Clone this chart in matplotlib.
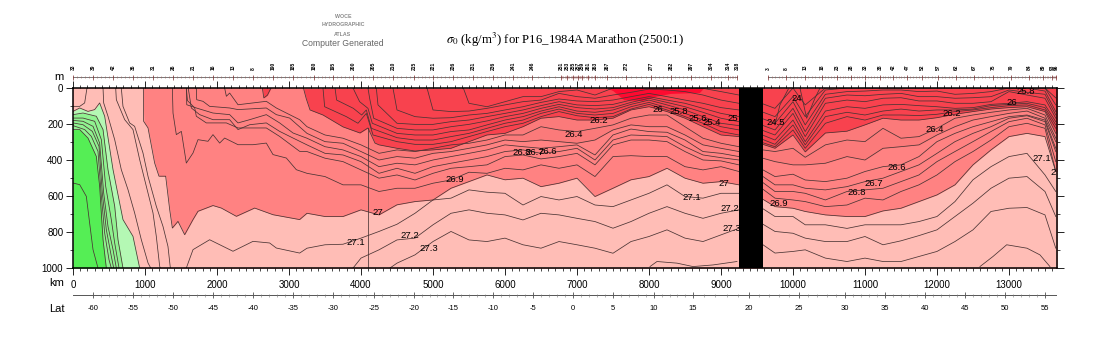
import numpy as np
import matplotlib
matplotlib.use("Agg")
import matplotlib.pyplot as plt

plt.rcParams["font.family"] = ["Liberation Sans", "DejaVu Sans"]
plt.rcParams["mathtext.fontset"] = "stix"

# shared distance nodes, km: west of the gap and east of it
GRID_MID = np.arange(0, 9251, 250)
GRID_RIGHT = [9750, 10000, 10170, 10450, 10750, 11000, 11250, 11500, 11750, 12000,
              12250, 12500, 12750, 13000, 13250, 13500, 13650]

# isopycnal depths (m): *_HK/*_HM = outcrop part, *_M = mid nodes (ending 9250 km), *_R = right nodes
S270_HK = [977, 981, 1042, 1134, 1194, 1287, 1343, 1380, 1458, 1551, 1667, 1736, 1944, 2060, 2269, 2523, 2778, 3148]
S270_HM = [0, 185, 222, 417, 490, 490, 676, 778, 741, 815, 731, 685, 653, 667, 713, 667, 704, 731]
S270_M = [696, 714, 714, 677, 705, 649, 631, 622, 557, 520, 483, 510, 501, 548, 529, 501, 603, 557, 510, 492, 446, 501, 529, 520, 538]
S270_R = [659, 668, 686, 705, 714, 714, 683, 668, 631, 594, 538, 427, 344, 270, 252, 270, 464]

S271_HK = [1574, 1667, 1898, 2222, 2500, 2731, 2824, 3148]
S271_HM = [1000, 898, 843, 907, 852, 861, 889, 917]
S271_M = [890, 871, 868, 834, 797, 757, 696, 622, 612, 566, 579, 585, 650, 603, 622, 603, 650, 659, 622, 585, 538, 603, 612, 585, 585]
S271_R = [714, 714, 760, 760, 780, 760, 760, 760, 742, 714, 631, 510, 437, 381, 363, 483, 575]

S272_HK = [3890]
S272_HM = [1000]
S272_M = [945, 899, 844, 834, 760, 696, 677, 696, 705, 733, 696, 705, 724, 742, 779, 742, 696, 659, 696, 724, 696, 677]
S272_R = [797, 807, 834, 853, 853, 825, 871, 849, 820, 788, 714, 640, 557, 501, 492, 575, 714]

S273_HK = [4403]
S273_HM = [1000]
S273_M = [973, 927, 853, 797, 844, 853, 834, 871, 890, 853, 871, 890, 918, 853, 825, 788, 834, 853, 816, 779]
S273_R = [917, 908, 899, 945, 964, 945, 964, 964, 936, 908, 853, 788, 686, 668, 664, 705, 890]

S269_HK = [1380, 1389, 1435, 1505, 1574, 1667, 1736, 1875, 1944, 2037, 2106, 2292, 2500, 2685, 2778, 2963, 3102]
S269_HM = [0, 139, 259, 241, 417, 361, 287, 296, 259, 306, 278, 315, 315, 306, 370, 389, 454]
S269_M = [474, 492, 538, 538, 575, 557, 557, 529, 511, 468, 474, 446, 455, 427, 446, 427, 492, 381, 376, 381, 381, 437, 455, 437, 464]
S269_R = [612, 622, 631, 659, 650, 612, 622, 575, 538, 483, 409, 353, 289, 215, 196, 224, 464]

S268_HK = [1574, 1590, 1690, 1713, 1852, 2130, 2292, 2685, 2870, 3148]
S268_HM = [0, 70, 110, 157, 194, 194, 222, 222, 269, 352]
S268_M = [353, 390, 409, 455, 501, 483, 511, 474, 446, 437, 427, 381, 372, 394, 381, 363, 427, 316, 289, 289, 298, 353, 400, 405, 427]
S268_R = [575, 575, 585, 622, 575, 566, 557, 520, 483, 409, 353, 298, 242, 187, 168, 205, 409]

S267_HK = [1600, 1644, 1759, 1944, 2176, 2292, 2454, 2685, 2870, 3056]
S267_HM = [0, 111, 148, 176, 176, 231, 204, 194, 241, 278]
S267_M = [316, 363, 372, 409, 474, 446, 474, 437, 418, 400, 381, 353, 344, 363, 353, 335, 400, 289, 261, 265, 270, 326, 372, 387, 400]
S267_R = [538, 538, 557, 566, 548, 520, 501, 464, 427, 363, 298, 252, 215, 168, 154, 187, 353]

S266_HK = [1574, 1580, 1713, 1944, 2176, 2292, 2454, 2685, 2870, 3056]
S266_HM = [0, 93, 111, 139, 148, 194, 176, 148, 194, 250]
S266_M = [279, 326, 344, 381, 437, 418, 427, 400, 381, 363, 344, 316, 326, 335, 326, 316, 372, 261, 228, 242, 246, 289, 353, 363, 381]
S266_R = [492, 479, 511, 520, 501, 464, 437, 427, 381, 298, 252, 215, 187, 159, 150, 178, 335]

S265_HK = [1713, 1718, 1805, 1898, 2176, 2292, 2685, 2824, 3009]
S265_HM = [0, 65, 74, 102, 111, 120, 111, 148, 167]
S265_M = [252, 298, 307, 353, 400, 381, 390, 363, 353, 335, 316, 289, 298, 289, 298, 307, 289, 233, 205, 215, 215, 261, 316, 335, 353]
S265_R = [409, 427, 427, 418, 381, 400, 335, 326, 316, 261, 215, 178, 159, 141, 128, 168, 298]

S264_HK = [2106, 2130, 2176, 2292, 2685, 2824, 3148]
S264_HM = [0, 46, 28, 93, 74, 111, 176]
S264_M = [215, 261, 279, 316, 363, 344, 353, 335, 316, 307, 289, 261, 261, 215, 233, 242, 224, 205, 168, 150, 150, 215, 279, 307, 326]
S264_R = [353, 335, 385, 316, 289, 298, 224, 279, 270, 224, 168, 150, 135, 122, 113, 150, 279]

S263_HK = [3200, 3240, 3292, 3472, 3750, 3986, 4097, 4194]
S263_HM = [0, 60, 122, 150, 216, 250, 222, 306]
S263_M = [316, 335, 350, 344, 335, 298, 261, 252, 215, 168, 159, 178, 178, 168, 122, 104, 131, 168, 215, 261, 270]
S263_R = [335, 261, 355, 250, 240, 205, 168, 178, 178, 165, 146, 131, 117, 109, 104, 131, 252]

S262_HK = [3472, 3495, 3796, 3958, 4074, 4167]
S262_HM = [0, 104, 159, 196, 141, 261]
S262_M = [298, 313, 313, 298, 270, 242, 215, 196, 159, 131, 154, 165, 159, 117, 91, 122, 159, 196, 242, 261]
S262_R = [326, 233, 335, 196, 159, 178, 150, 150, 153, 146, 131, 122, 109, 98, 94, 122, 224]

S261_HK = [3639, 3662, 3894, 4009, 4074, 4144]
S261_HM = [0, 67, 113, 150, 122, 224]
S261_M = [276, 289, 289, 270, 252, 224, 196, 178, 141, 117, 141, 150, 141, 104, 80, 109, 141, 178, 215, 233]
S261_R = [313, 205, 316, 159, 135, 150, 128, 117, 128, 122, 122, 117, 98, 91, 85, 109, 205]

S260_HK = [3889, 3981, 4097, 4157]
S260_HM = [0, 76, 113, 196]
S260_M = [252, 261, 261, 242, 233, 205, 178, 159, 128, 104, 128, 135, 122, 91, 67, 94, 122, 159, 196, 209]
S260_R = [289, 178, 298, 128, 104, 113, 94, 91, 98, 104, 113, 109, 91, 85, 76, 94, 187]

S258_HK = [4097, 4120, 4176]
S258_HM = [0, 57, 168]
S258_M = [224, 233, 233, 215, 202, 183, 159, 141, 113, 91, 109, 117, 109, 80, 57, 80, 104, 135, 168, 187]
S258_R = [261, 141, 270, 85, 67, 76, 57, 54, 72, 72, 85, 85, 76, 20, 39, 57, 168]

S256_HK = [4213, 4236]
S256_HM = [0, 94]
S256_M = [196, 202, 202, 187, 178, 159, 141, 122, 98, 76, 94, 98, 91, 67, 48, 67, 85, 113, 141, 159]
S256_R = [233, 113, 242, 57, 39, 43, 35, 30, 48, 48, 57, 54, 48, 11, 24, 35, 150]

S254_HK = [4444]
S254_HM = [0]
S254_M = [122, 159, 168, 165, 150, 141, 122, 104, 80, 61, 72, 76, 67, 48, 30, 48, 67, 85, 109, 122]
S254_R = [196, 76, 205, 35, 20, 17, 11, 11, 20, 17, 35, 30, 20, 0, 0, 17, 131]

S250_HK = [4917]
S250_HM = [0]
S250_M = [122, 131, 128, 113, 94, 76, 67, 30, 48, 57, 39, 24, 6, 11, 20, 39, 67, 85]
S250_R = [159, 48, 159, 11, 0, 0, 0, 0, 0, 0, 0, 0, 0, 0, 0, 0, 94]

S245_HK = [5421]
S245_HM = [0]
S245_M = [85, 104, 76, 48, 48, 20, 11, 39, 0, 0, 0, 0, 0, 2, 20, 39]
S245_R = [113, 0, 94, 0, 0, 0, 0, 0, 0, 0, 0, 0, 0, 0, 0, 0, 55]

# short contours with their own distances
G1_KM = [0, 93, 208, 301, 370, 440, 556, 694, 833, 926]
G1_M = [130, 111, 130, 120, 83, 157, 454, 731, 824, 1000]
G2_KM = [0, 139, 324, 417, 486, 579, 625, 694]
G2_M = [148, 139, 157, 231, 454, 657, 843, 1000]
G3_KM = [0, 139, 301, 394, 454, 532, 579, 639]
G3_M = [167, 167, 185, 287, 546, 731, 861, 1000]
G4_KM = [0, 139, 278, 370, 426, 486, 556, 602]
G4_M = [180, 185, 213, 306, 583, 769, 898, 1000]
G5_KM = [0, 139, 269, 361, 407, 463, 532, 565]
G5_M = [194, 204, 241, 324, 583, 787, 935, 1000]
G6_KM = [0, 162, 255, 347, 394, 440, 500, 532]
G6_M = [209, 231, 269, 352, 602, 806, 954, 1000]
G7_KM = [0, 93, 208, 324, 370, 417, 463]
G7_M = [231, 231, 278, 380, 546, 843, 1000]
G8_KM = [0, 93, 185, 231, 278, 347]
G8_M = [528, 537, 602, 750, 898, 1000]
PA_KM = [0, 93, 162, 194]
PA_M = [102, 102, 83, 0]
P1_KM = [417, 426, 486, 579, 671, 764, 856, 949, 1042, 1079]
P1_M = [0, 83, 157, 287, 454, 565, 694, 843, 972, 1000]
P2_KM = [593, 602, 718, 833, 926, 995, 1111, 1157, 1204, 1213]
P2_M = [0, 65, 176, 231, 398, 509, 694, 824, 991, 1000]
P3_KM = [671, 694, 787, 856, 972, 1042, 1157, 1250, 1319, 1352]
P3_M = [0, 102, 194, 213, 361, 491, 657, 769, 880, 1000]
S274A_KM = [8014, 8111, 8389, 8611, 8889, 9222]
S274A_M = [992, 964, 973, 992, 983, 964]
S274B_KM = [12597, 12778, 12968, 13250, 13430, 13569]
S274B_M = [992, 936, 871, 890, 927, 992]
S240A_KM = [9750, 9819, 9935]
S240A_M = [205, 94, 6]
S240B_KM = [10097, 10190, 10305, 10375]
S240B_M = [0, 168, 57, 0]
BLOB_KM = [7420, 7500, 7650, 7900, 8100, 8300, 8700, 8760]
BLOB_M = [0, 15, 65, 70, 45, 30, 25, 0]
SPOT_KM = [2630, 2650, 2700, 2750]
SPOT_M = [0, 55, 40, 0]
JOIN_KM = [4100, 4100]
JOIN_M = [224, 1000]

# contour labels
LABEL_KM = [10056, 9764, 9167, 8875, 8681, 8417, 8125, 7306, 6958, 6236, 6417, 6597, 5306, 4236, 3931, 4681, 4944,
            9042, 8597, 9125, 9153, 13236, 13042, 12208, 11972, 11444, 11125, 10889, 9806, 13458, 13611]
LABEL_M = [56, 189, 167, 189, 167, 133, 122, 178, 256, 356, 356, 350, 506, 689, 856, 817, 894,
           528, 611, 672, 783, 22, 83, 144, 233, 439, 533, 578, 644, 389, 467]
LABEL_TXT = ["24", "24.5", "25", "25.4", "25.6", "25.8", "26", "26.2", "26.4", "26.8", "26.7", "26.6", "26.9",
             "27", "27.1", "27.2", "27.3", "27", "27.1", "27.2", "27.3", "25.8", "26", "26.2", "26.4", "26.6",
             "26.7", "26.8", "26.9", "27.1", "2"]

# station strip: labelled stations, km along the section
STN_KM = [0, 278, 556, 833, 1111, 1389, 1667, 1944, 2222, 2500, 2778, 3056, 3347, 3611, 3889, 4167, 4444,
          4736, 5000, 5278, 5556, 5833, 6111, 6375, 6778, 6861, 6944, 7014, 7069, 7153, 7250, 7417, 7681,
          8028, 8306, 8583, 8861, 9097, 9222]
STN_TXT = ["33", "39", "42", "36", "31", "26", "21", "16", "13", "8", "190", "185", "180", "195", "200", "205",
           "210", "215", "221", "226", "231", "236", "241", "246", "251", "253", "255", "257", "259", "261",
           "263", "267", "272", "277", "282", "297", "304", "314", "318"]
STN2_KM = [9653, 9903, 10167, 10403, 10611, 10806, 11000, 11208, 11389, 11583, 11792, 12014, 12264, 12514,
           12778, 13028, 13278, 13472, 13597, 13660]
STN2_TXT = ["3", "8", "13", "18", "23", "28", "33", "38", "42", "47", "52", "57", "62", "67", "75", "79", "84",
            "89", "93", "96"]

# latitude strip
LAT_VAL = [-60, -55, -50, -45, -40, -35, -30, -25, -20, -15, -10, -5, 0, 5, 10, 15, 20, 25, 30, 35, 40, 45, 50, 55]
LAT_KM = [278, 833, 1389, 1944, 2500, 3056, 3611, 4180, 4736, 5278, 5833, 6389, 6944, 7500, 8069, 8611, 9389,
          10083, 10722, 11278, 11833, 12389, 12944, 13500]

KM_MAX = 13667
GAP_KM = [9250, 9585]
RED_TOP, RED_DARK, RED_MID = "#FF0A30", "#F8424E", "#FB7A7A"
SALMON, PINK = "#FF8282", "#FFBDB6"
GREEN_LT, GREEN_MD, GREEN_BR = "#B4F8B4", "#90F290", "#55EE55"
LINE = "#4a3434"


def track(head_km, head_m, mid, right):
    km = list(head_km) + list(GRID_MID[-len(mid):]) + GRID_RIGHT
    return np.array(km, float), np.array(list(head_m) + mid + right, float)


def main():
    fig = plt.figure(figsize=(11, 3.5), dpi=100)
    px = lambda x, y, w, h: [x / 1100, 1 - (y + h) / 350, w / 1100, h / 350]
    ax = fig.add_axes(px(73, 88, 984, 180))

    S270 = track(S270_HK, S270_HM, S270_M, S270_R)
    S265 = track(S265_HK, S265_HM, S265_M, S265_R)
    S263 = track(S263_HK, S263_HM, S263_M, S263_R)
    tracks = [S270, S265, S263,
              track(S271_HK, S271_HM, S271_M, S271_R), track(S272_HK, S272_HM, S272_M, S272_R),
              track(S273_HK, S273_HM, S273_M, S273_R), track(S269_HK, S269_HM, S269_M, S269_R),
              track(S268_HK, S268_HM, S268_M, S268_R), track(S267_HK, S267_HM, S267_M, S267_R),
              track(S266_HK, S266_HM, S266_M, S266_R), track(S264_HK, S264_HM, S264_M, S264_R),
              track(S262_HK, S262_HM, S262_M, S262_R), track(S261_HK, S261_HM, S261_M, S261_R),
              track(S260_HK, S260_HM, S260_M, S260_R), track(S258_HK, S258_HM, S258_M, S258_R),
              track(S256_HK, S256_HM, S256_M, S256_R), track(S254_HK, S254_HM, S254_M, S254_R),
              track(S250_HK, S250_HM, S250_M, S250_R), track(S245_HK, S245_HM, S245_M, S245_R)]

    # ---- layered fills --------------------------------------------------
    x = np.arange(0, KM_MAX + 5, 5.0)
    d263 = np.interp(x, *S263)
    d265 = np.interp(x, *S265)
    d270 = np.interp(x, *S270)
    ax.fill_between(x, 0, 1000, color=RED_DARK, lw=0)
    ax.fill_between(x, 0, 1000, where=x < 3200, color=SALMON, lw=0)
    ax.fill_between(x, d263, 1000, color=SALMON, lw=0)
    ax.fill_between(x, d263, d265, where=x > 4100, color=RED_MID, lw=0)
    ax.fill_between(x, d270, 1000, color=PINK, lw=0)
    ax.fill_between(G1_KM, G1_M, 1000, color=GREEN_LT, lw=0)
    ax.fill_between(G2_KM, G2_M, 1000, color=GREEN_MD, lw=0)
    ax.fill_between(G7_KM, G7_M, 1000, color=GREEN_BR, lw=0)
    ax.fill_between(BLOB_KM, 0, BLOB_M, color=RED_TOP, lw=0)
    ax.fill_between(SPOT_KM, 0, SPOT_M, color=RED_DARK, lw=0)

    # ---- contour lines --------------------------------------------------
    for km, m in tracks:
        ax.plot(km, m, color=LINE, lw=0.55)
    for km, m in [(G1_KM, G1_M), (G2_KM, G2_M), (G3_KM, G3_M), (G4_KM, G4_M), (G5_KM, G5_M), (G6_KM, G6_M),
                  (G7_KM, G7_M), (G8_KM, G8_M), (PA_KM, PA_M), (P1_KM, P1_M), (P2_KM, P2_M), (P3_KM, P3_M),
                  (S274A_KM, S274A_M), (S274B_KM, S274B_M), (S240A_KM, S240A_M), (S240B_KM, S240B_M),
                  (JOIN_KM, JOIN_M), (SPOT_KM, SPOT_M)]:
        ax.plot(km, m, color=LINE, lw=0.55)
    for k, m, t in zip(LABEL_KM, LABEL_M, LABEL_TXT):
        ax.text(k, m, t, fontsize=6.8, ha="center", va="center", color="black")
    ax.axvspan(GAP_KM[0], GAP_KM[1], color="black", lw=0, zorder=5)

    # ---- frame and ticks ------------------------------------------------
    ax.set_xlim(0, KM_MAX)
    ax.set_ylim(1000, 0)
    ax.set_xticks(np.arange(0, 13001, 1000))
    ax.set_xticks(np.arange(0, KM_MAX, 100), minor=True)
    ax.set_yticks(np.arange(0, 1001, 200))
    ax.set_yticks(np.arange(0, 1001, 100), minor=True)
    ax.tick_params(axis="both", which="major", length=5, width=0.6, labelsize=7, direction="out",
                   top=True, right=True, pad=2)
    ax.tick_params(axis="both", which="minor", length=2.5, width=0.5, direction="out", top=True, right=True)
    ax.tick_params(axis="x", which="major", pad=4)
    for s in ax.spines.values():
        s.set_linewidth(1.1)
    fig.text(57 / 1100, 1 - 283.5 / 350, "km", fontsize=8, ha="center", va="center")
    fig.text(57 / 1100, 1 - 308.5 / 350, "Lat", fontsize=8, ha="center", va="center")
    fig.text(59 / 1100, 1 - 77.5 / 350, "m", fontsize=8, ha="center", va="center")

    # ---- station strip --------------------------------------------------
    st = fig.add_axes(px(73, 60, 984, 22))
    st.set_xlim(0, KM_MAX)
    st.set_ylim(0, 22)
    st.axis("off")
    for kms, txt in [(STN_KM, STN_TXT), (STN2_KM, STN2_TXT)]:
        idx = np.arange(len(kms))
        fine = np.interp(np.arange(0, len(kms) - 0.99, 0.2), idx, kms)
        st.plot([kms[0], kms[-1]], [5, 5], color="#777777", lw=0.7, clip_on=False)
        st.vlines(fine, 3.8, 6.2, color="#a06060", lw=0.4, clip_on=False)
        st.vlines(kms, 2.5, 7.5, color="#803030", lw=0.5, clip_on=False)
        for k, t in zip(kms, txt):
            st.text(k, 12, t, fontsize=3.6, weight="bold", rotation=90, ha="center", va="bottom", clip_on=False)

    # ---- latitude strip -------------------------------------------------
    la = fig.add_axes(px(73, 285, 984, 30))
    la.set_xlim(0, KM_MAX)
    la.set_ylim(30, 0)
    la.axis("off")
    lat_fine = np.arange(-60, 56, 1.0)
    lat_km = np.interp(lat_fine, LAT_VAL, LAT_KM)
    la.plot([0, KM_MAX], [10, 10], color="#555555", lw=0.7)
    la.vlines(lat_km, 8.5, 11.5, color="#777777", lw=0.4)
    la.vlines(LAT_KM, 7, 13, color="#555555", lw=0.6)
    for k, v in zip(LAT_KM, LAT_VAL):
        la.text(k, 23.5, str(v), fontsize=5.5, ha="center", va="center")

    # ---- titles ---------------------------------------------------------
    grey = "#8a8a8a"
    fig.text(343 / 1100, 1 - 17 / 350, "WOCE", fontsize=3.8, color=grey, weight="bold", ha="center", va="center")
    fig.text(343 / 1100, 1 - 25 / 350, "HYDROGRAPHIC", fontsize=3.8, color=grey, weight="bold", ha="center", va="center")
    fig.text(343 / 1100, 1 - 34 / 350, "ATLAS", fontsize=3.8, color=grey, weight="bold", ha="center", va="center")
    fig.text(343 / 1100, 1 - 43.5 / 350, "Computer Generated", fontsize=6.2, color="#666666", ha="center", va="center")
    fig.text(565 / 1100, 1 - 40 / 350, r"$\sigma_0$ (kg/m$^3$) for P16_1984A Marathon (2500:1)", fontsize=9.2,
             family="Liberation Serif", ha="center", va="center")

    fig.savefig("out.png", dpi=100)


if __name__ == "__main__":
    main()
